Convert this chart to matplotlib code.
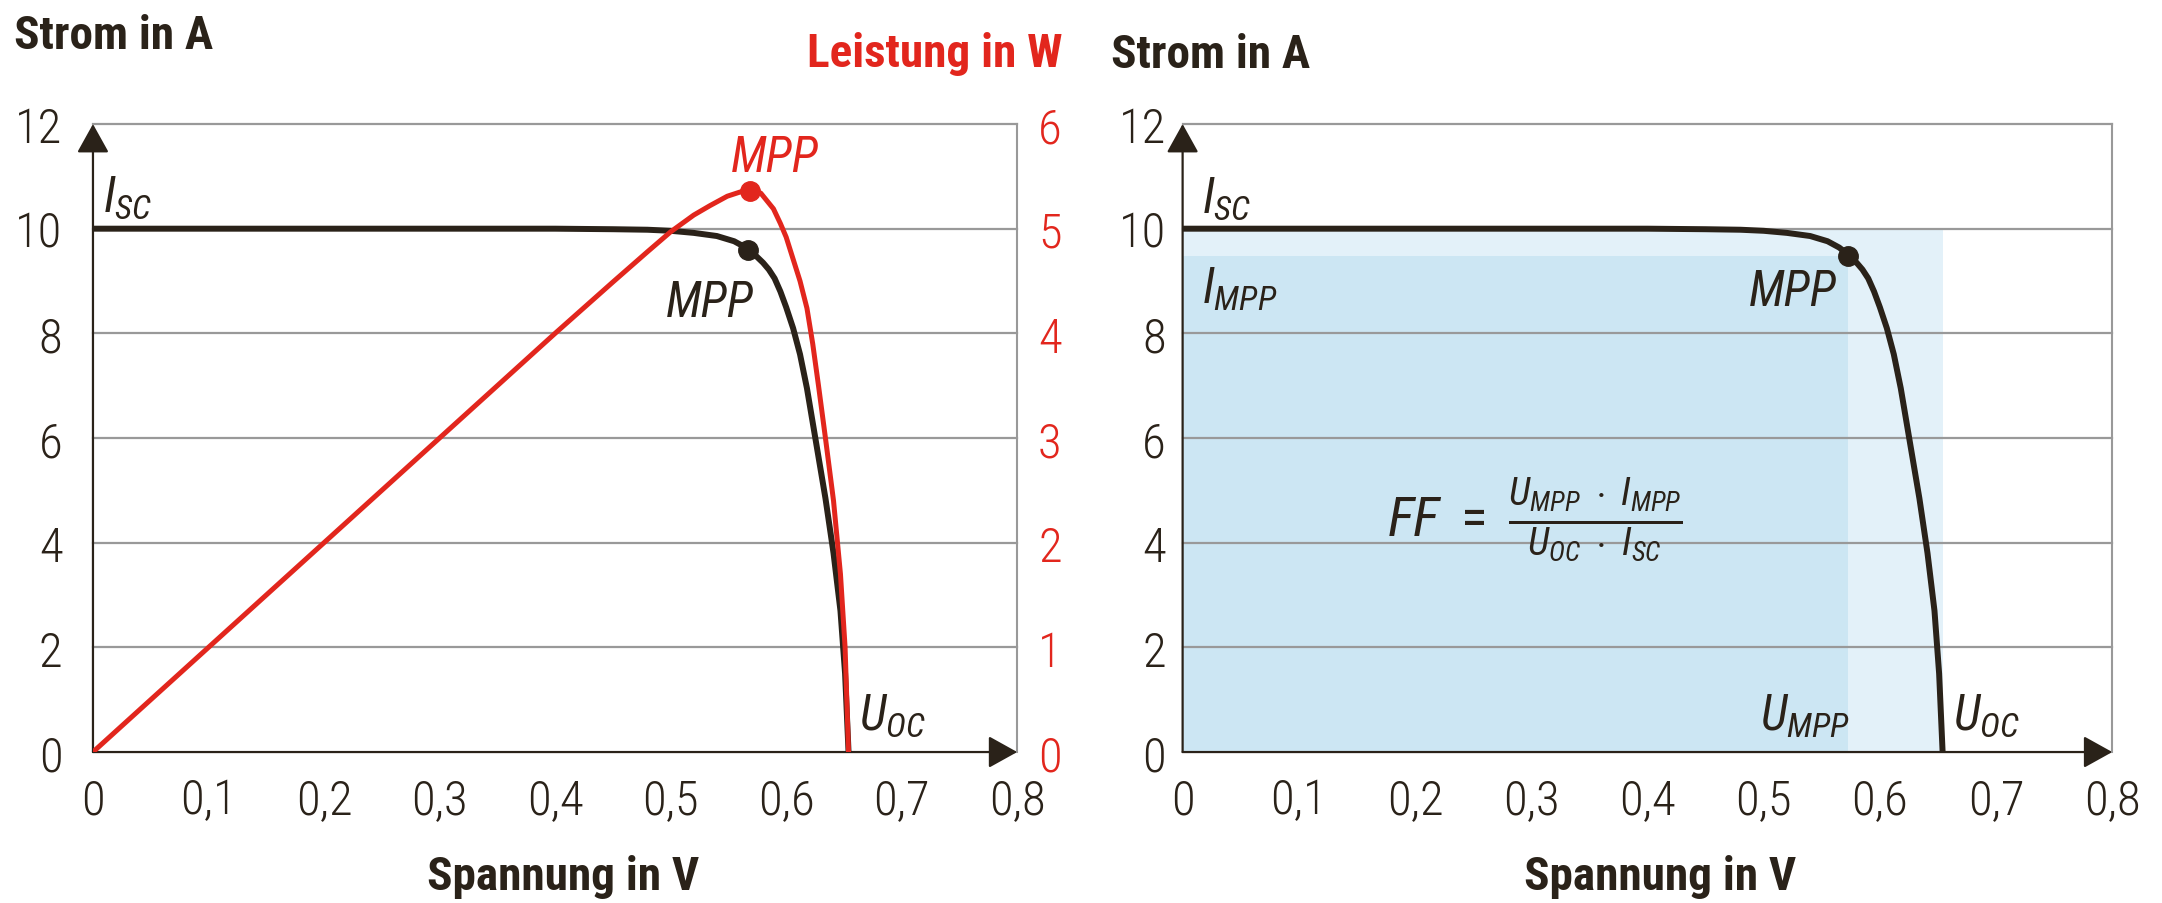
import numpy as np
import matplotlib
matplotlib.use('Agg')
import matplotlib.pyplot as plt
from matplotlib.patches import Rectangle

FONTS = ['Roboto Condensed', 'Liberation Sans Narrow', 'Roboto', 'DejaVu Sans']
plt.rcParams['font.family'] = FONTS
plt.rcParams['mathtext.fontset'] = 'custom'
plt.rcParams['mathtext.it'] = 'Roboto Condensed:italic'
plt.rcParams['mathtext.rm'] = 'Roboto Condensed'

# Kennlinie
spannung = [0, 0.1, 0.2, 0.3, 0.4, 0.45, 0.48, 0.50, 0.52, 0.54, 0.555, 0.565, 0.572,
            0.58, 0.585, 0.59, 0.595, 0.60, 0.606, 0.612, 0.618, 0.626, 0.634, 0.641,
            0.647, 0.651, 0.654]
strom = [10, 10, 10, 10, 10, 9.99, 9.98, 9.96, 9.92, 9.86, 9.76, 9.64, 9.52,
         9.35, 9.22, 9.05, 8.8, 8.5, 8.1, 7.6, 6.95, 5.9, 4.85, 3.8,
         2.7, 1.5, 0]

# Leistungskurve
spannung_p = [0, 0.1, 0.2, 0.3, 0.4, 0.45, 0.48, 0.50, 0.52, 0.534, 0.549, 0.56, 0.569,
              0.578, 0.589, 0.595, 0.60, 0.606, 0.612, 0.618, 0.623, 0.628, 0.634,
              0.641, 0.647, 0.651, 0.654]
leistung = [0, 1.0, 2.0, 3.0, 4.0, 4.49, 4.78, 4.97, 5.13, 5.22, 5.31, 5.35, 5.37,
            5.34, 5.19, 5.05, 4.92, 4.71, 4.5, 4.24, 3.9, 3.5, 3.0,
            2.4, 1.7, 1.0, 0]

u_mpp, i_mpp = 0.573, 9.47
u_mpp_links, i_mpp_links = 0.567, 9.6
u_pmax, p_max = 0.569, 5.36
u_oc, i_sc = 0.654, 10.0

x_ticks = [0, 0.1, 0.2, 0.3, 0.4, 0.5, 0.6, 0.7, 0.8]
x_labels = ['0', '0,1', '0,2', '0,3', '0,4', '0,5', '0,6', '0,7', '0,8']
i_ticks = [0, 2, 4, 6, 8, 10, 12]
p_ticks = [0, 1, 2, 3, 4, 5, 6]

BLACK = '#2a2219'
RED = '#e2261d'
GRID = '#999999'
BLUE_DARK = '#cce6f3'
BLUE_LIGHT = '#e3f1f9'

TICK = 35
NOTE = 35
TITLE = 34


def setup(ax, ypad):
    ax.set_xlim(0, 0.8)
    ax.set_ylim(0, 12)
    for s in ['top', 'bottom', 'left']:
        ax.spines[s].set_visible(False)
    ax.spines['right'].set_color(GRID)
    ax.spines['right'].set_linewidth(1.5)
    ax.set_xticks(x_ticks)
    ax.set_xticklabels(x_labels)
    ax.set_yticks(i_ticks)
    ax.tick_params(length=0, labelsize=TICK, colors=BLACK)
    ax.tick_params(axis='y', pad=ypad)
    ax.tick_params(axis='x', pad=18)
    for lab in ax.get_xticklabels() + ax.get_yticklabels():
        lab.set_fontweight('light')
    for y in i_ticks[1:]:
        ax.axhline(y, color=GRID, lw=1.6, zorder=1, clip_on=False)
    # Achsen mit Pfeilen
    arrow = dict(arrowstyle='-|>,head_length=0.9,head_width=0.5', color=BLACK,
                 lw=1.6, shrinkA=0, shrinkB=0, mutation_scale=20)
    ax.annotate('', xy=(0, 12), xytext=(0, 0), arrowprops=arrow,
                annotation_clip=False, zorder=3)
    ax.annotate('', xy=(0.8, 0), xytext=(0, 0), arrowprops=arrow,
                annotation_clip=False, zorder=3)


fig = plt.figure(figsize=(21.62, 9.04), dpi=100)
ax1 = fig.add_axes([0.043, 0.167, 0.4275, 0.6947])
ax2 = fig.add_axes([0.547, 0.167, 0.430, 0.6947])

# linkes Diagramm
setup(ax1, 22)
ax1.plot(spannung, strom, color=BLACK, lw=4.3, zorder=4, solid_capstyle='butt')
ax1.plot(u_mpp_links, i_mpp_links, 'o', color=BLACK, ms=14, zorder=6)

axp = ax1.twinx()
axp.set_ylim(0, 6)
axp.set_yticks(p_ticks)
for s in axp.spines.values():
    s.set_visible(False)
axp.tick_params(length=0, labelsize=TICK, colors=RED, pad=15)
for lab in axp.get_yticklabels():
    lab.set_fontweight('light')
axp.plot(spannung_p, leistung, color=RED, lw=3.6, zorder=5)
axp.plot(u_pmax, p_max, 'o', color=RED, ms=14, zorder=6)

ax1.text(0.009, 10.15, r'$I_{SC}$', fontsize=NOTE, color=BLACK, va='bottom')
ax1.text(0.496, 8.6, 'MPP', fontsize=NOTE, style='italic', color=BLACK, va='center')
ax1.text(0.552, 11.36, 'MPP', fontsize=NOTE, style='italic', color=RED, va='center')
ax1.text(0.663, 0.25, r'$U_{OC}$', fontsize=NOTE, color=BLACK, va='bottom')

fig.text(0.0065, 0.946, 'Strom in A', fontsize=TITLE, weight='bold', color=BLACK)
fig.text(0.4915, 0.926, 'Leistung in W', fontsize=TITLE, weight='bold', color=RED, ha='right')
fig.text(0.2603, 0.0155, 'Spannung in V', fontsize=TITLE, weight='bold', color=BLACK, ha='center')

# rechtes Diagramm
setup(ax2, 12)
ax2.add_patch(Rectangle((0, 0), u_oc, i_sc, color=BLUE_LIGHT, lw=0, zorder=0))
ax2.add_patch(Rectangle((0, 0), u_mpp, i_mpp, color=BLUE_DARK, lw=0, zorder=0))
ax2.plot(spannung, strom, color=BLACK, lw=4.3, zorder=4)
ax2.plot(u_mpp, i_mpp, 'o', color=BLACK, ms=14, zorder=6)

ax2.text(0.017, 10.13, r'$I_{SC}$', fontsize=NOTE, color=BLACK, va='bottom')
ax2.text(0.017, 8.41, r'$I_{MPP}$', fontsize=NOTE, color=BLACK, va='bottom')
ax2.text(0.4875, 8.8, 'MPP', fontsize=NOTE, style='italic', color=BLACK, va='center')
ax2.text(0.497, 0.25, r'$U_{MPP}$', fontsize=NOTE, color=BLACK, va='bottom')
ax2.text(0.663, 0.25, r'$U_{OC}$', fontsize=NOTE, color=BLACK, va='bottom')
ax2.text(0.303, 4.45, r'$FF\ =\ \frac{U_{MPP}\ \cdot\ I_{MPP}}{U_{OC}\ \cdot\ I_{SC}}$',
         fontsize=40, color=BLACK, ha='center', va='center')

fig.text(0.514, 0.925, 'Strom in A', fontsize=TITLE, weight='bold', color=BLACK)
fig.text(0.768, 0.0155, 'Spannung in V', fontsize=TITLE, weight='bold', color=BLACK, ha='center')

fig.savefig('out.png', dpi=100, facecolor='white')
